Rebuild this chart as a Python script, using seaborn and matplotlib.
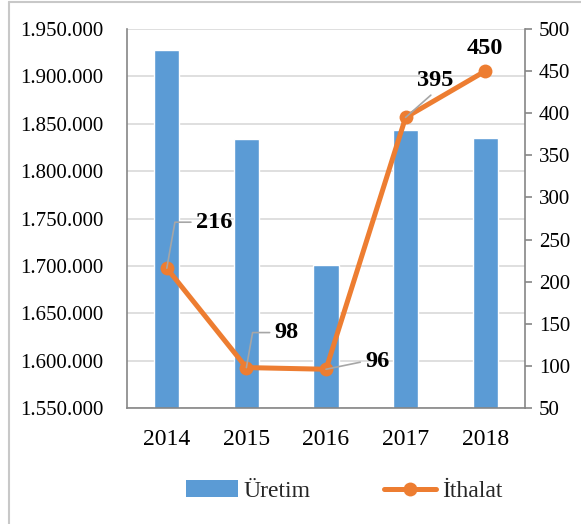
import matplotlib
matplotlib.use("Agg")
import matplotlib.pyplot as plt
from matplotlib.lines import Line2D
from matplotlib.patches import Patch
from matplotlib.ticker import FuncFormatter, MultipleLocator
import seaborn as sns
import pandas as pd

years = ["2014", "2015", "2016", "2017", "2018"]
uretim = [1928000, 1834000, 1701000, 1843000, 1835000]
ithalat = [216, 98, 96, 395, 450]

BLUE = "#5B9BD5"
ORANGE = "#ED7D31"
GRID = "#D9D9D9"
SPINE = "#868686"

sns.set_theme(style="white")
plt.rcParams["font.family"] = ["Liberation Serif", "DejaVu Serif"]

df = pd.DataFrame({"year": years, "uretim": uretim, "ithalat": ithalat})

fig = plt.figure(figsize=(5.81, 5.24), dpi=100)
ax = fig.add_axes([127/581, 1-408/524, (525-127)/581, (408-29)/524])

sns.barplot(data=df, x="year", y="uretim", color=BLUE, width=0.315,
            saturation=1, ax=ax, zorder=2)
ax.set_ylim(1550000, 1950000)
ax.yaxis.set_major_locator(MultipleLocator(50000))
ax.yaxis.set_major_formatter(FuncFormatter(lambda v, p: f"{int(round(v)):,}".replace(",", ".")))
ax.grid(axis="y", color=GRID, lw=1.2, zorder=0)
ax.set_axisbelow(True)
ax.set_xlabel("")
ax.set_ylabel("")
for s in ["top", "right"]:
    ax.spines[s].set_visible(False)
for s in ["left", "bottom"]:
    ax.spines[s].set_color(SPINE)
    ax.spines[s].set_linewidth(1.2)
ax.tick_params(axis="y", length=0, pad=17, labelsize=15, colors="black")
ax.tick_params(axis="x", length=0, pad=15, labelsize=17, colors="black")

ax2 = ax.twinx()
sns.lineplot(data=df, x="year", y="ithalat", color=ORANGE, lw=3.6, marker="o",
             markersize=10, markeredgewidth=0, ax=ax2, zorder=3)
ax2.set_ylim(50, 500)
ax2.yaxis.set_major_locator(MultipleLocator(50))
ax2.set_ylabel("")
ax2.set_xlabel("")
ax.set_xlim(-0.5, 4.5)
ax2.set_xlim(-0.5, 4.5)
for s in ["top", "left", "bottom"]:
    ax2.spines[s].set_visible(False)
ax2.spines["right"].set_color(SPINE)
ax2.spines["right"].set_linewidth(1.2)
ax2.tick_params(axis="y", length=5, width=1.2, pad=5, labelsize=15,
                colors=SPINE, labelcolor="black")

lbl = dict(fontsize=17.5, fontweight="bold", color="black", textcoords="offset pixels",
           va="center", ha="center")
leader = dict(arrowstyle="-", color="#A6A6A6", lw=1.2, shrinkA=1, shrinkB=0)

ax2.annotate(str(ithalat[0]), xy=(0, ithalat[0]), xytext=(47, 46),
             arrowprops=dict(leader, relpos=(0, 0.5),
                             connectionstyle="angle,angleA=0,angleB=80,rad=0"), **lbl)
ax2.annotate(str(ithalat[1]), xy=(1, ithalat[1]), xytext=(40, 35),
             arrowprops=dict(leader, relpos=(0, 0.5),
                             connectionstyle="angle,angleA=0,angleB=80,rad=0"), **lbl)
ax2.annotate(str(ithalat[2]), xy=(2, ithalat[2]), xytext=(51, 8),
             arrowprops=dict(leader, relpos=(0, 0.5)), **lbl)
ax2.annotate(str(ithalat[3]), xy=(3, ithalat[3]), xytext=(30, 37),
             arrowprops=dict(leader, relpos=(0.5, 0)), **lbl)
ax2.annotate(str(ithalat[4]), xy=(4, ithalat[4]), xytext=(0, 23), **lbl)

handles = [Patch(facecolor=BLUE, edgecolor="none"),
           Line2D([], [], color=ORANGE, lw=3.6, marker="o", markersize=10, markeredgewidth=0)]
fig.legend(handles, ["Üretim", "İthalat"], loc="center", bbox_to_anchor=(344/581, 1-491/524),
           ncol=2, frameon=False, fontsize=17, handlelength=2.2, handletextpad=0.25,
           columnspacing=3.1, handleheight=0.7)

fig.add_artist(Line2D([8.5/581, 8.5/581], [0, 1-1.5/524], color="#C8C8C8", lw=1.5,
                      transform=fig.transFigure))
fig.add_artist(Line2D([8.5/581, 1], [1-1.5/524, 1-1.5/524], color="#C8C8C8", lw=1.5,
                      transform=fig.transFigure))

fig.savefig("out.png", dpi=100)
